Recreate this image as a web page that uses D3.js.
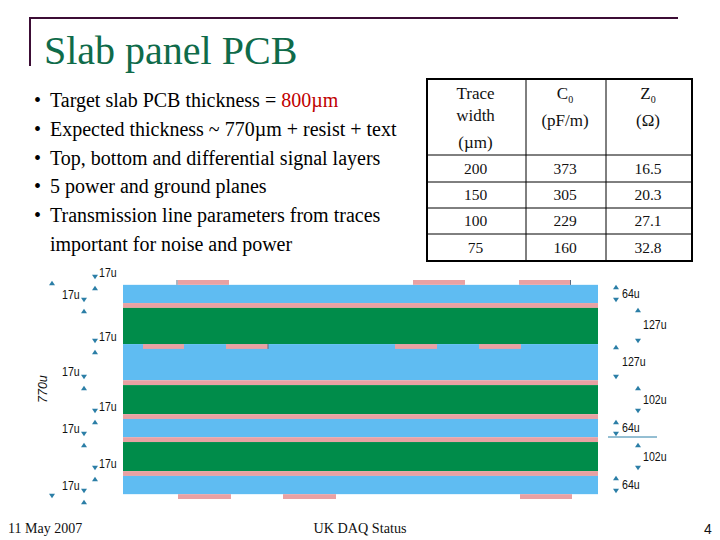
<!DOCTYPE html>
<html><head><meta charset="utf-8">
<script src="https://d3js.org/d3.v7.min.js"></script>
<style>html,body{margin:0;padding:0;background:#fff}svg{display:block}text{font-family:"Liberation Serif",serif}text.sans{font-family:"Liberation Sans",sans-serif}</style>
</head><body><svg id="c" width="720" height="540"></svg>
<script>
// stack-up read top to bottom, thickness in microns
const layerNames=["top","core1","cu1","fr1","pp1","cu2","fr2","cu3","core2","cu4","fr3","cu5","core3","bottom"];
const layerThickness=[17,64,17,127,127,17,102,17,64,17,102,17,64,17];
const layerKinds=["none","blue","pink","green","blue","pink","green","pink","blue","pink","green","pink","blue","none"];
// trace extents along the panel, in panel units
const topTraces=[[55,106],[290,342],[396,448]];
const innerTraces=[[20,61],[103,145],[272,314],[356,398]];
const bottomTraces=[[55,108],[160,213],[397,449]];
const topEdgeMarks=[54,447.5];
const innerEdgeMarks=[145];
const bullets=["Expected thickness ~ 770µm + resist + text","Top, bottom and differential signal layers","5 power and ground planes","Transmission line parameters from traces"];
const tableHeadA=["Trace","C","Z"];
const tableHeadB=["width","(pF/m)","(Ω)"];
const traceWidth=["200","150","100","75"];
const c0=["373","305","229","160"];
const z0=["16.5","20.3","27.1","32.8"];
const dimLeftLabels=["17u","17u","17u","17u","17u","17u","17u","17u"];
const dimRightLabels=["64u","127u","127u","102u","64u","102u","64u"];

const svg=d3.select("#c");
const colors={blue:"#5fbcf2",pink:"#e9a1a3",green:"#008c4a"};
const y=d3.scaleLinear().domain([0,d3.sum(layerThickness)]).range([280,499]);
const x=d3.scaleLinear().domain([0,475]).range([123,598]);
const cum=d3.cumsum(layerThickness);
const start=i=>i?cum[i-1]:0;

// frame + title
const frame=svg.append("g").attr("stroke","#3c0d35").attr("stroke-width",2);
frame.append("line").attr("x1",29).attr("x2",678).attr("y1",18).attr("y2",18);
frame.append("line").attr("x1",30).attr("x2",30).attr("y1",17).attr("y2",66);
svg.append("text").attr("x",44).attr("y",64).attr("font-size",40).attr("fill","#0f6b4a").text("Slab panel PCB");

// bullets
const bl=svg.append("g").attr("font-size",20).attr("fill","#000");
const lineY=d3.scaleLinear().domain([0,5]).range([107,251]);
const first=bl.append("text").attr("x",50).attr("y",lineY(0)).text("Target slab PCB thickness = ");
first.append("tspan").attr("fill","#c00000").text("800µm");
bullets.forEach((t,i)=>bl.append("text").attr("x",50).attr("y",lineY(i+1)).text(t));
bl.append("text").attr("x",50).attr("y",lineY(5)).text("important for noise and power");
d3.range(5).forEach(i=>bl.append("text").attr("x",34).attr("y",lineY(i)).text("•"));

// table
const colX=[427,526,606,692], rowY=[79,155,182,208,234,261];
const colMid=i=>(colX[i]+colX[i+1])/2-1;
const tb=svg.append("g").attr("text-anchor","middle").attr("fill","#111");
const headSize=17, cellSize=15.5;
tableHeadA.forEach((t,i)=>{
  const e=tb.append("text").attr("font-size",headSize).attr("x",colMid(i)).attr("y",99).text(t);
  if(i) e.append("tspan").attr("font-size",10).attr("dy",4).text("0");
});
tableHeadB.forEach((t,i)=>tb.append("text").attr("font-size",headSize).attr("x",colMid(i)).attr("y",i?126:121).text(t));
tb.append("text").attr("font-size",headSize).attr("x",colMid(0)).attr("y",148).text("(µm)");
[traceWidth,c0,z0].forEach((col,j)=>col.forEach((v,i)=>
  tb.append("text").attr("font-size",cellSize).attr("x",colMid(j)).attr("y",[174,200,226,253][i]).text(v)));
const grid=svg.append("g").attr("stroke","#000");
rowY.slice(1,-1).forEach(v=>grid.append("line").attr("x1",colX[0]).attr("x2",colX[3]).attr("y1",v).attr("y2",v).attr("stroke-width",1));
colX.slice(1,-1).forEach(v=>grid.append("line").attr("x1",v).attr("x2",v).attr("y1",rowY[0]).attr("y2",rowY[5]).attr("stroke-width",1));
svg.append("rect").attr("x",colX[0]).attr("y",rowY[0]).attr("width",colX[3]-colX[0]).attr("height",rowY[5]-rowY[0]).attr("fill","none").attr("stroke","#000").attr("stroke-width",2);

// PCB layers
svg.append("g").selectAll("rect").data(layerThickness.map((t,i)=>({t,i,k:layerKinds[i]})).filter(d=>d.k!=="none"))
  .join("rect").attr("x",x(0)).attr("width",x(475)-x(0))
  .attr("y",d=>y(start(d.i))).attr("height",d=>y(start(d.i)+d.t)-y(start(d.i))).attr("fill",d=>colors[d.k]);
const traces=(arr,lay)=>svg.append("g").selectAll("rect").data(arr).join("rect")
  .attr("x",d=>x(d[0])).attr("width",d=>x(d[1])-x(d[0]))
  .attr("y",y(start(lay))).attr("height",y(start(lay)+17)-y(start(lay))).attr("fill",colors.pink);
traces(topTraces,0);
traces(innerTraces,4);
traces(bottomTraces,13);
const edges=(arr,lay)=>svg.append("g").selectAll("line").data(arr).join("line")
  .attr("x1",d=>x(d)).attr("x2",d=>x(d))
  .attr("y1",y(start(lay))).attr("y2",y(start(lay)+17)).attr("stroke","#5a6a80").attr("stroke-width",1);
edges(topEdgeMarks,0);
edges(innerEdgeMarks,4);

// dimension marks
const dim=svg.append("g").attr("fill","#2b7ea6");
function arrow(px,py,up){
  const w=3,h=2.3;
  dim.append("path").attr("d",d3.line()(up?[[px,py-h],[px+w,py+h],[px-w,py+h]]:[[px,py+h],[px+w,py-h],[px-w,py-h]]));
}
const lab=svg.append("g").attr("fill","#111");
const label=(t,px,py)=>lab.append("text").attr("class","sans").attr("font-size",12.5)
  .attr("x",px).attr("y",py).attr("textLength",t.length*5.9).attr("lengthAdjust","spacingAndGlyphs").text(t);
// left side: alternating copper-thickness callouts
const leftRows=[[273,277,288,1],[295,300,311,0],[337,341,352,1],[372,377,388,0],[407,411,422,1],[429,434,445,0],[464,468,479,1],[486,491,502,0]];
leftRows.forEach((r,i)=>{
  const far=r[3];
  const ax=far?95:84;
  arrow(ax,r[1],false); arrow(ax,r[2],true);
  label(dimLeftLabels[i],far?99:62,r[0]+3.5);
});
arrow(52,283,true); arrow(52,496,false);
lab.append("text").attr("class","sans").attr("transform","translate(47,403) rotate(-90)").attr("font-size",12.5).attr("font-style","italic").text("770u");
// right side
const rightRows=[[294,287,300,0],[325,310,341,1],[362,347,377,0],[400,388,411,1],[428,422,434,0],[457,445,468,1],[485,478,491,0]];
rightRows.forEach((r,i)=>{
  const far=r[3];
  const ax=far?638:616;
  arrow(ax,r[1],true); arrow(ax,r[2],false);
  label(dimRightLabels[i],far?643:622,r[0]+3.5);
});
svg.append("line").attr("x1",608).attr("x2",657).attr("y1",437).attr("y2",437).attr("stroke","#2b7ea6").attr("stroke-width",1);

// footer
svg.append("text").attr("x",8).attr("y",533).attr("font-size",14).attr("fill","#111").text("11 May 2007");
svg.append("text").attr("x",360).attr("y",533).attr("text-anchor","middle").attr("font-size",14.2).attr("fill","#111").text("UK DAQ Status");
svg.append("text").attr("class","sans").attr("x",704).attr("y",534).attr("font-size",14).attr("fill","#111").text("4");
</script></body></html>
